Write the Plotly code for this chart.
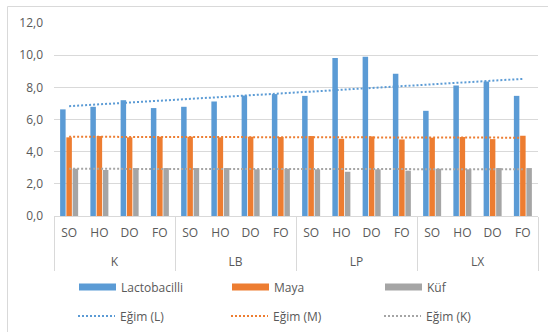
import numpy as np
import plotly.graph_objects as go

# Sample groups and storage conditions
groups = ["K", "LB", "LP", "LX"]
conditions = ["SO", "HO", "DO", "FO"]

# Counts per sample (log values)
lactobacilli = [6.63, 6.79, 7.20, 6.71, 6.79, 7.12, 7.49, 7.58,
                7.47, 9.83, 9.90, 8.84, 6.54, 8.12, 8.37, 7.47]
maya = [4.89, 4.97, 4.89, 4.93, 4.93, 4.89, 4.93, 4.91,
        4.97, 4.80, 4.95, 4.76, 4.87, 4.91, 4.78, 4.99]
kuf = [2.94, 2.86, 2.98, 2.98, 2.98, 2.98, 2.90, 2.94,
       2.90, 2.75, 2.90, 2.82, 2.94, 2.90, 2.98, 2.98]

series_names = ["Lactobacilli", "Maya", "Küf"]
trend_names = ["Eğim (L)", "Eğim (M)", "Eğim (K)"]
colors = ["#5B9BD5", "#ED7D31", "#A5A5A5"]

# Inner labels get a blank second line so the group row sits lower
x_outer = [g for g in groups for _ in conditions]
x_inner = [c + "<br>&nbsp;" for _ in groups for c in conditions]
x_multi = [x_outer, x_inner]

TEXT = "#595959"
GRID = "#D9D9D9"
FONT = "Open Sans"

fig = go.Figure()

all_series = [lactobacilli, maya, kuf]
for name, vals, col in zip(series_names, all_series, colors):
    fig.add_trace(go.Bar(x=x_multi, y=vals, name=name, showlegend=False,
                         marker=dict(color=col, line=dict(width=0))))

# Wide swatch legend entries for the bar series
for name, col in zip(series_names, colors):
    fig.add_trace(go.Scatter(x=[x_outer[:1], x_inner[:1]], y=[None],
                             name=name, mode="lines", hoverinfo="skip",
                             line=dict(color=col, width=7)))

# Linear trend lines fitted across the 16 categories
idx = np.arange(len(lactobacilli))
for name, vals, col in zip(trend_names, all_series, colors):
    slope, icpt = np.polyfit(idx, vals, 1)
    fig.add_trace(go.Scatter(x=x_multi, y=slope * idx + icpt, name=name,
                             mode="lines", hoverinfo="skip", legend="legend2",
                             line=dict(color=col, width=2, dash="2px,2px")))

W, H = 548, 332
L, R, T, B = 54, 10, 23, 116
pw, ph = W - L - R, H - T - B

def px_x(px):
    return (px - L) / pw

def px_y(py):
    return (H - B - py) / ph

def cont_y(py):
    return 1 - py / H

legend_style = dict(orientation="h", xanchor="left", yanchor="middle",
                    yref="container",
                    entrywidth=101, entrywidthmode="pixels",
                    itemwidth=37, tracegroupgap=0,
                    font=dict(family=FONT, size=12, color=TEXT),
                    bgcolor="rgba(0,0,0,0)")

fig.update_layout(
    width=W, height=H,
    margin=dict(l=L, r=R, t=T, b=B, pad=0),
    paper_bgcolor="white", plot_bgcolor="white",
    separators=",.",
    font=dict(family=FONT, size=12, color=TEXT),
    barmode="group", bargap=0.38, bargroupgap=0.12,
    showlegend=True,
    legend=dict(x=px_x(74), y=cont_y(287), **legend_style),
    legend2=dict(x=px_x(73), y=cont_y(316), **legend_style),
    xaxis=dict(type="multicategory", showgrid=False, automargin=False,
               showline=True, linecolor=GRID, linewidth=1,
               ticks="", showdividers=True, dividercolor=GRID, dividerwidth=1,
               ticklabelstandoff=6,
               tickfont=dict(family=FONT, size=12, color=TEXT)),
    yaxis=dict(range=[0, 12], dtick=2, tickformat=".1f", automargin=False,
               showgrid=True, gridcolor=GRID, gridwidth=1,
               zeroline=False, showline=False, ticks="",
               ticklabelstandoff=10,
               tickfont=dict(family=FONT, size=12, color=TEXT)),
    shapes=[dict(type="rect", xref="paper", yref="paper",
                 x0=px_x(7.5), x1=1.2, y0=-1.0, y1=px_y(6.5),
                 line=dict(color=GRID, width=1), fillcolor="rgba(0,0,0,0)",
                 layer="below")],
)

fig.write_html("out.html")
